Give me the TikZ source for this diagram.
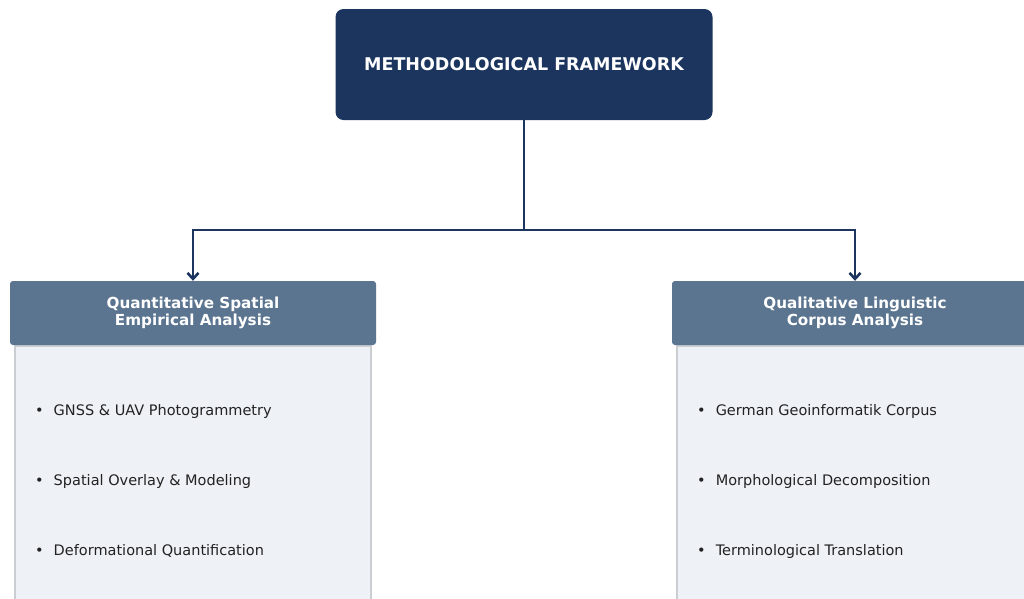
\documentclass[tikz,border=0pt]{standalone}
\usepackage{fontspec}
\setmainfont{DejaVu Sans}
\usepackage{xcolor}
\usepackage{tikz}
\usetikzlibrary{arrows.meta}
\usetikzlibrary{positioning}
\definecolor{navy}{HTML}{1C355E}
\definecolor{slate}{HTML}{5B7590}
\definecolor{pale}{HTML}{EEF2F7}
\definecolor{rim}{HTML}{CACED3}
\definecolor{ink}{HTML}{222222}
\tikzstyle{cadre}=[rectangle,rounded corners=8pt,fill=navy,text=white,
minimum width=377pt,minimum height=111pt,font=\fontsize{17.5}{21}\selectfont\bfseries]
\tikzstyle{tete}=[rectangle,rounded corners=3pt,fill=slate,text=white,align=center,
minimum width=366pt,minimum height=64pt,font=\fontsize{15.2}{17.5}\selectfont\bfseries]
\tikzstyle{corps}=[rectangle,draw=rim,line width=1.5pt,fill=pale,anchor=north,
minimum width=356pt,minimum height=300pt]
\tikzstyle{item}=[anchor=west,inner sep=0pt,text=ink,font=\fontsize{14.5}{17}\selectfont]
\tikzstyle{suite}=[-{Straight Barb[length=6pt,width=11pt]},line width=2.6pt,draw=navy]

\begin{document}
\begin{tikzpicture}[x=1pt,y=1pt]
\useasboundingbox (0,0) rectangle (1024,-598);
\clip (0,0) rectangle (1024,-598);
\node[cadre] (top) at (524,-64.5) {METHODOLOGICAL FRAMEWORK};
\node[corps] (bl) at (193,-345) {};
\node[corps] (br) at (855,-345) {};
\node[tete] (hl) at (193,-313) {Quantitative Spatial\\Empirical Analysis};
\node[tete] (hr) at (855,-313) {Qualitative Linguistic\\Corpus Analysis};
\node[item] (l1) at (35,-411) {•\hspace{10pt}GNSS \& UAV Photogrammetry};
\node[item] (l2) at (35,-481) {•\hspace{10pt}Spatial Overlay \& Modeling};
\node[item] (l3) at (35,-551) {•\hspace{10pt}Deformational Quantification};
\node[item] (r1) at (697,-411) {•\hspace{10pt}German Geoinformatik Corpus};
\node[item] (r2) at (697,-481) {•\hspace{10pt}Morphological Decomposition};
\node[item] (r3) at (697,-551) {•\hspace{10pt}Terminological Translation};
\coordinate (split) at (524,-230);
%Placement des fleches
\draw[suite,-] (top) -- (split);
\draw[suite] (split) -| (hl);
\draw[suite] (split) -| (hr);
\end{tikzpicture}
\end{document}
